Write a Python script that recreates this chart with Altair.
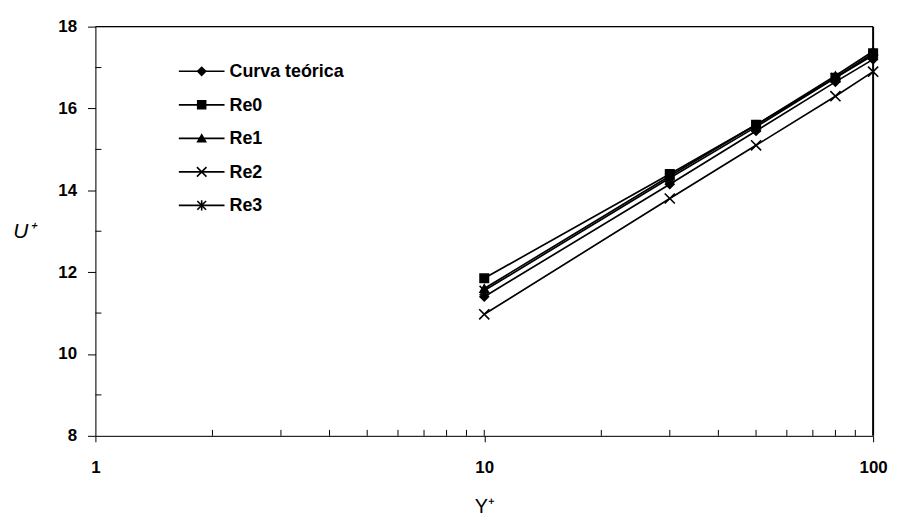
import altair as alt
import pandas as pd

# ---- data ----
series = ["Curva teórica", "Re0", "Re1", "Re2", "Re3"]
y_plus = [10, 30, 50, 80, 100]
curva = [11.40, 14.15, 15.45, 16.65, 17.20]
re0 = [11.85, 14.40, 15.60, 16.75, 17.35]
re1 = [11.60, 14.35, 15.60, 16.80, 17.40]
re2 = [10.97, 13.80, 15.10, 16.30, 16.90]
re3 = [11.55, 14.30, 15.55, 16.75, 17.30]

x_ticks = [1, 10, 100]
y_ticks = [8, 10, 12, 14, 16, 18]
x_minor = [2, 3, 4, 5, 6, 7, 8, 9, 10, 20, 30, 40, 50, 60, 70, 80, 90]
y_minor = [9, 11, 13, 15, 17]

values = [curva, re0, re1, re2, re3]
rows = []
for s, vals in zip(series, values):
    for x, v in zip(y_plus, vals):
        rows.append({"serie": s, "y": x, "u": v})
df = pd.DataFrame(rows)
leg_df = pd.DataFrame({"serie": series, "row": list(range(len(series)))})

FONT = "Liberation Sans"
W, H = 783, 412

xscale = alt.Scale(type="log", domain=[1, 100])
yscale = alt.Scale(domain=[8, 18], zero=False)

marker_shapes = [
    "diamond",
    "square",
    "triangle-up",
    "M-1.2,-1.2L1.2,1.2M-1.2,1.2L1.2,-1.2",
    "M-1.1,-1.1L1.1,1.1M-1.1,1.1L1.1,-1.1M0,-1.3L0,1.3",
]
shape_scale = alt.Scale(domain=series, range=marker_shapes)

x_axis = alt.Axis(values=x_ticks, title="Y⁺", format="d", grid=False,
                  labelFont=FONT, labelFontSize=17, labelFontWeight="bold",
                  labelColor="black",
                  labelPadding=18, tickSize=6, tickColor="black",
                  domainColor="black", labelFlush=False,
                  titleFont=FONT, titleFontSize=20, titleFontWeight="normal",
                  titleColor="black", titlePadding=21)
y_axis = alt.Axis(values=y_ticks, title="U⁺", grid=False,
                  labelFont=FONT, labelFontSize=17, labelFontWeight="bold",
                  labelColor="black",
                  labelPadding=11, tickSize=8, tickColor="black",
                  domainColor="black",
                  titleFont=FONT, titleFontSize=21, titleFontWeight="normal",
                  titleFontStyle="italic", titleColor="black",
                  titleAngle=0, titleX=-72, titleY=H / 2,
                  titleAlign="center", titleBaseline="middle")

base = alt.Chart(df)

lines = base.mark_line(color="black", strokeWidth=1.7).encode(
    x=alt.X("y:Q", scale=xscale, axis=x_axis),
    y=alt.Y("u:Q", scale=yscale, axis=y_axis),
    detail="serie:N",
)

points = base.mark_point(filled=True, fill="black", stroke="black",
                         strokeWidth=1.6, opacity=1, size=72).encode(
    x=alt.X("y:Q", scale=xscale, axis=x_axis),
    y=alt.Y("u:Q", scale=yscale, axis=y_axis),
    shape=alt.Shape("serie:N", scale=shape_scale, legend=None),
)

ymin_df = pd.DataFrame({"u": y_minor})
xmin_df = pd.DataFrame({"y": x_minor})

y_minor_rules = alt.Chart(ymin_df).mark_rule(color="black", strokeWidth=1).encode(
    y=alt.Y("u:Q", scale=yscale, axis=y_axis),
    x=alt.value(0), x2=alt.value(6),
)
x_minor_rules = alt.Chart(xmin_df).mark_rule(color="black", strokeWidth=1).encode(
    x=alt.X("y:Q", scale=xscale, axis=x_axis),
    y=alt.value(H), y2=alt.value(H - 6),
)

# frame: top and right edges of the plot box
frame_top = alt.Chart(leg_df.head(1)).mark_rule(color="black", strokeWidth=1.5).encode(
    x=alt.value(0), x2=alt.value(W), y=alt.value(0))
frame_right = alt.Chart(leg_df.head(1)).mark_rule(color="black", strokeWidth=2).encode(
    x=alt.value(W), y=alt.value(0), y2=alt.value(H))

data_layers = alt.layer(lines, points, y_minor_rules, x_minor_rules)

# ---- hand-built legend (rows placed by a linear scale) ----
leg_y = alt.Y("row:Q", scale=alt.Scale(domain=[0, 4], range=[45, 180]), axis=None)
leg_base = alt.Chart(leg_df)
leg_lines = leg_base.mark_rule(color="black", strokeWidth=1.6).encode(
    y=leg_y, x=alt.value(84), x2=alt.value(130))
leg_marks = leg_base.mark_point(filled=True, fill="black", stroke="black",
                                strokeWidth=1.6, opacity=1, size=64).encode(
    y=leg_y, x=alt.value(107),
    shape=alt.Shape("serie:N", scale=shape_scale, legend=None))
leg_text = leg_base.mark_text(align="left", baseline="middle", font=FONT,
                              fontSize=18, fontWeight="bold", color="black",
                              dy=1).encode(
    y=leg_y, x=alt.value(135), text="serie:N")
legend_layers = alt.layer(leg_lines, leg_marks, leg_text)

chart = (
    alt.layer(data_layers, legend_layers, frame_top, frame_right)
    .resolve_scale(y="independent")
    .properties(width=W, height=H,
                autosize=alt.AutoSizeParams(type="none"),
                padding={"left": 88, "top": 17, "right": 16, "bottom": 86})
    .configure_view(stroke=None)
    .configure(background="white")
)

chart.save("out.html", embed_options={"renderer": "svg", "actions": False})
